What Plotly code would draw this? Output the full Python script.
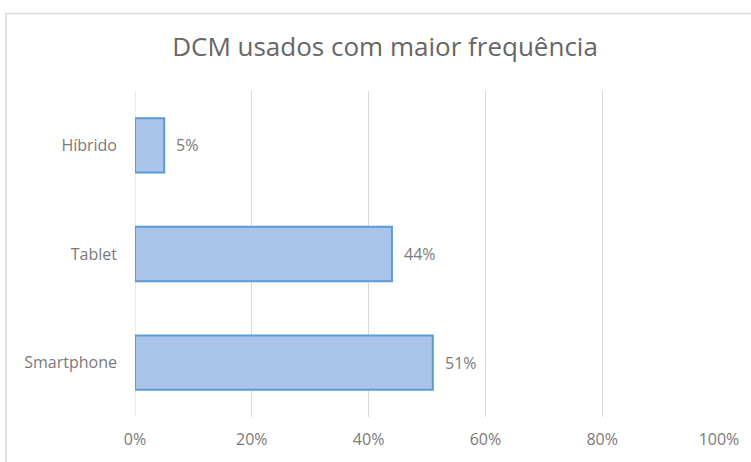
import plotly.graph_objects as go

categories = ["Smartphone", "Tablet", "Híbrido"]
values = [0.51, 0.44, 0.05]
labels = ["51%", "44%", "5%"]
title_text = "DCM usados com maior frequência"

gray = "#7a7a7a"
title_gray = "#666666"
font_family = "Open Sans, Noto Sans, sans-serif"

fig = go.Figure(
    go.Bar(
        y=categories,
        x=values,
        orientation="h",
        marker=dict(color="#a9c4e8", line=dict(color="#5b9bd5", width=2)),
        width=0.5,
        hoverinfo="x+y",
    )
)

annotations = [
    dict(
        x=v,
        y=c,
        xref="x",
        yref="y",
        text=t,
        showarrow=False,
        xanchor="left",
        yanchor="middle",
        xshift=10,
        font=dict(size=16, color=gray, family=font_family),
    )
    for c, v, t in zip(categories, values, labels)
]

fig.update_layout(
    width=751,
    height=462,
    margin=dict(l=135, r=32, t=91, b=43),
    paper_bgcolor="white",
    plot_bgcolor="white",
    showlegend=False,
    title=dict(
        text=title_text,
        x=385 / 751,
        xref="container",
        xanchor="center",
        y=1 - 47 / 462,
        yanchor="middle",
        font=dict(size=26, color=title_gray, family=font_family),
    ),
    xaxis=dict(
        range=[0, 1],
        tickvals=[0, 0.2, 0.4, 0.6, 0.8, 1.0],
        tickformat=".0%",
        showgrid=True,
        gridcolor="#d9d9d9",
        gridwidth=1,
        zeroline=False,
        showline=False,
        tickfont=dict(size=16, color=gray, family=font_family),
        ticklabelstandoff=11,
        fixedrange=True,
    ),
    yaxis=dict(
        categoryorder="array",
        categoryarray=categories,
        showgrid=False,
        zeroline=False,
        showline=False,
        tickfont=dict(size=16, color=gray, family=font_family),
        ticklabelstandoff=17,
        fixedrange=True,
    ),
    annotations=annotations,
    shapes=[
        dict(
            type="rect",
            xref="paper",
            yref="paper",
            x0=-0.221,
            x1=1.2,
            y0=-0.3,
            y1=(419 - 13) / 328,
            line=dict(color="#d9d9d9", width=1.5),
            fillcolor="rgba(0,0,0,0)",
            layer="below",
        ),
        dict(
            type="line",
            xref="x",
            yref="paper",
            x0=0,
            x1=0,
            y0=0,
            y1=1,
            line=dict(color="#d9d9d9", width=1),
            layer="below",
        ),
    ],
)

fig.write_html(
    "out.html",
    config={"displayModeBar": False},
    post_script="document.body.style.margin='0';document.body.style.overflow='hidden';",
)
